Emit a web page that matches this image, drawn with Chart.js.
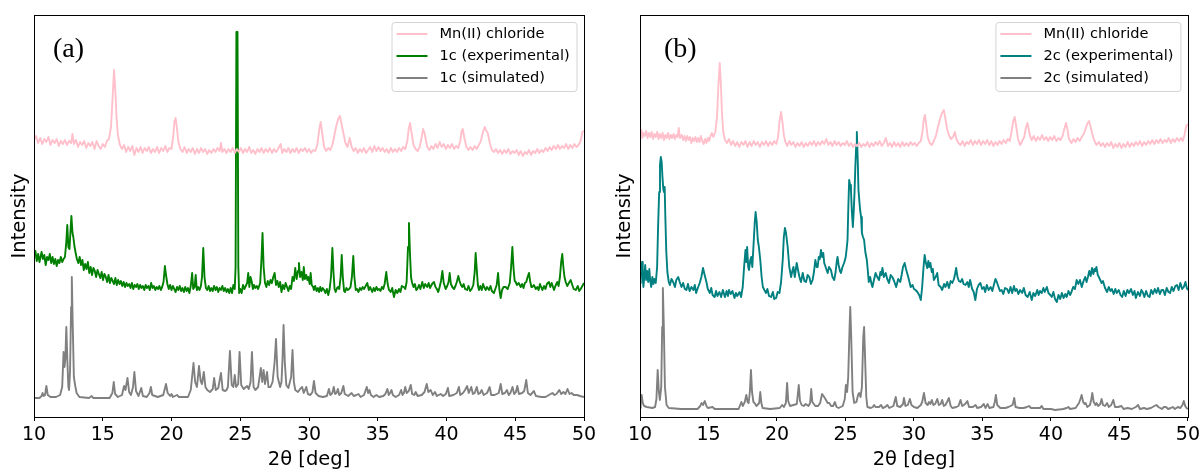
<!DOCTYPE html>
<html>
<head>
<meta charset="utf-8">
<script src="https://cdn.jsdelivr.net/npm/chart.js@4.4.1/dist/chart.umd.min.js"></script>
<style>
  html, body { margin: 0; padding: 0; background: #fff; }
  #wrap { position: relative; width: 1203px; height: 470px; overflow: hidden; }
  canvas { position: absolute; top: 0; }
  #ca { left: 0; }
  #cb { left: 600px; }
</style>
</head>
<body>
<div id="wrap">
  <canvas id="ca" width="600" height="470"></canvas>
  <canvas id="cb" width="603" height="470"></canvas>
</div>
<script>
// ---- tick labels / axis ----
const xTickValues = [10, 15, 20, 25, 30, 35, 40, 45, 50];
const xTitle = '2θ [deg]';
const yTitle = 'Intensity';
const panelLabels = ['(a)', '(b)'];
const seriesLabelsA = ['Mn(II) chloride', '1c (experimental)', '1c (simulated)'];
const seriesLabelsB = ['Mn(II) chloride', '2c (experimental)', '2c (simulated)'];

// ---- panel (a) series : [2θ, intensity (offset, arbitrary units)] ----
const mnChlorideA = [[10,277],[10.15,281],[10.3,274],[10.45,279],[10.6,273],[10.75,278],[10.9,275],[11.05,280],[11.2,272],[11.35,277],[11.5,274],[11.65,278],[11.8,271],[11.95,276],[12.1,273],[12.25,277],[12.4,272],[12.55,276],[12.7,274],[12.8,283],[12.9,273],[13.05,277],[13.2,270],[13.35,275],[13.5,272],[13.65,276],[13.8,269],[13.95,274],[14.1,271],[14.25,275],[14.4,268],[14.55,276],[14.7,271],[14.85,268],[15.0,273],[15.15,270],[15.3,276],[15.45,278],[15.6,290],[15.72,320],[15.82,347],[15.92,325],[16.0,300],[16.1,282],[16.25,272],[16.4,268],[16.55,272],[16.7,265],[16.85,270],[17.0,266],[17.15,271],[17.3,262],[17.45,269],[17.6,265],[17.75,270],[17.9,264],[18.05,269],[18.2,266],[18.35,270],[18.5,264],[18.65,268],[18.8,265],[18.95,270],[19.1,264],[19.25,269],[19.4,266],[19.55,271],[19.7,265],[19.85,269],[20.0,268],[20.12,280],[20.22,296],[20.3,299],[20.4,288],[20.5,275],[20.65,268],[20.8,265],[20.95,270],[21.1,264],[21.25,268],[21.4,265],[21.55,269],[21.7,263],[21.85,268],[22.0,264],[22.15,269],[22.3,265],[22.45,268],[22.6,263],[22.75,267],[22.9,264],[23.05,268],[23.2,265],[23.35,269],[23.5,266],[23.6,274],[23.7,265],[23.85,268],[24.0,264],[24.15,268],[24.3,265],[24.45,269],[24.6,264],[24.75,268],[24.9,265],[25.05,269],[25.2,264],[25.35,268],[25.5,265],[25.65,270],[25.8,264],[25.95,267],[26.1,263],[26.25,268],[26.4,265],[26.55,269],[26.7,264],[26.85,268],[27.0,265],[27.15,269],[27.3,264],[27.45,268],[27.6,265],[27.75,268],[27.94,273],[28.05,264],[28.2,268],[28.35,265],[28.5,269],[28.65,264],[28.8,268],[28.95,265],[29.1,269],[29.25,264],[29.4,268],[29.55,266],[29.7,269],[29.85,265],[30.0,268],[30.15,264],[30.3,267],[30.45,266],[30.6,272],[30.75,288],[30.85,295],[30.95,285],[31.1,270],[31.25,266],[31.4,269],[31.55,267],[31.7,272],[31.85,282],[32.0,292],[32.15,299],[32.25,301],[32.35,294],[32.5,284],[32.65,274],[32.8,270],[32.96,279],[33.1,270],[33.25,266],[33.4,269],[33.55,264],[33.7,268],[33.85,265],[34.0,269],[34.15,264],[34.3,267],[34.45,270],[34.6,265],[34.75,271],[34.9,266],[35.05,270],[35.2,266],[35.35,269],[35.5,265],[35.65,268],[35.8,264],[35.95,269],[36.1,265],[36.25,268],[36.4,265],[36.55,269],[36.7,266],[36.85,270],[37.0,268],[37.15,276],[37.25,288],[37.35,294],[37.45,285],[37.6,272],[37.75,268],[37.9,266],[38.05,270],[38.2,280],[38.3,288],[38.4,284],[38.5,277],[38.6,270],[38.75,267],[38.9,271],[39.05,268],[39.2,273],[39.35,269],[39.5,275],[39.65,270],[39.8,273],[39.95,268],[40.1,272],[40.25,269],[40.4,273],[40.55,268],[40.7,271],[40.85,269],[41.0,276],[41.1,286],[41.18,288],[41.3,279],[41.45,270],[41.6,267],[41.75,270],[41.9,267],[42.05,271],[42.2,268],[42.35,272],[42.5,276],[42.65,285],[42.78,290],[42.9,286],[43.0,284],[43.15,274],[43.3,267],[43.45,265],[43.6,268],[43.75,264],[43.9,267],[44.05,263],[44.2,267],[44.35,264],[44.5,268],[44.65,263],[44.8,266],[44.95,264],[45.1,267],[45.25,262],[45.4,266],[45.55,261],[45.7,265],[45.85,263],[46.0,267],[46.15,262],[46.3,266],[46.45,264],[46.6,268],[46.75,264],[46.9,267],[47.05,265],[47.2,269],[47.35,266],[47.5,270],[47.65,267],[47.8,271],[47.95,268],[48.1,272],[48.25,268],[48.4,271],[48.55,269],[48.7,273],[48.85,268],[49.0,272],[49.15,269],[49.3,273],[49.45,270],[49.6,272],[49.75,276],[49.88,285],[50.0,286]];

const exp1c = [[10.0,160],[10.1,166],[10.2,156],[10.3,163],[10.4,155],[10.55,165],[10.65,158],[10.75,162],[10.85,152],[10.95,160],[11.05,157],[11.15,163],[11.25,154],[11.35,160],[11.45,153],[11.55,158],[11.65,151],[11.75,157],[11.85,154],[11.95,160],[12.05,155],[12.15,158],[12.25,160],[12.35,175],[12.42,192],[12.5,170],[12.58,168],[12.65,185],[12.72,201],[12.8,184],[12.86,180],[12.95,170],[13.03,164],[13.12,158],[13.22,154],[13.32,160],[13.42,152],[13.52,157],[13.62,147],[13.72,153],[13.82,148],[13.92,155],[14.02,144],[14.12,150],[14.22,142],[14.32,149],[14.42,146],[14.52,140],[14.62,147],[14.72,143],[14.82,139],[14.92,145],[15.02,137],[15.12,143],[15.22,140],[15.32,135],[15.42,142],[15.52,134],[15.62,139],[15.72,136],[15.82,133],[15.92,139],[16.02,132],[16.12,137],[16.22,133],[16.32,136],[16.42,131],[16.52,135],[16.62,130],[16.72,134],[16.82,131],[16.92,133],[17.02,129],[17.12,134],[17.22,128],[17.32,132],[17.42,130],[17.52,133],[17.62,128],[17.72,132],[17.82,129],[17.92,131],[18.02,127],[18.12,132],[18.22,129],[18.32,131],[18.42,127],[18.52,134],[18.62,129],[18.72,131],[18.82,127],[18.92,130],[19.02,128],[19.12,131],[19.22,127],[19.32,130],[19.42,135],[19.52,151],[19.6,142],[19.7,133],[19.8,128],[19.9,132],[20.0,127],[20.1,131],[20.2,128],[20.3,125],[20.4,130],[20.5,127],[20.6,131],[20.7,126],[20.8,129],[20.9,125],[21.0,130],[21.1,126],[21.2,129],[21.3,124],[21.4,131],[21.5,144],[21.58,128],[21.68,130],[21.76,142],[21.84,127],[21.94,130],[22.04,127],[22.14,131],[22.22,140],[22.31,169],[22.4,140],[22.5,129],[22.6,127],[22.7,131],[22.8,126],[22.9,129],[23.0,126],[23.1,131],[23.2,127],[23.3,130],[23.4,125],[23.5,129],[23.6,127],[23.7,131],[23.8,126],[23.9,129],[24.0,125],[24.1,128],[24.2,124],[24.3,129],[24.4,124],[24.5,132],[24.6,128],[24.66,150],[24.72,385],[24.8,385],[24.86,150],[24.92,124],[25.0,128],[25.1,124],[25.2,132],[25.3,128],[25.4,131],[25.5,134],[25.58,144],[25.66,130],[25.75,140],[25.84,135],[25.92,128],[26.0,132],[26.1,129],[26.2,131],[26.3,128],[26.45,134],[26.55,160],[26.62,184],[26.7,150],[26.8,134],[26.9,130],[27.0,136],[27.1,132],[27.2,137],[27.3,134],[27.4,140],[27.5,144],[27.6,132],[27.7,136],[27.8,130],[27.9,135],[28.0,125],[28.1,132],[28.2,128],[28.3,134],[28.4,130],[28.5,126],[28.6,131],[28.7,128],[28.8,140],[28.9,136],[29.0,149],[29.1,138],[29.2,146],[29.27,154],[29.35,140],[29.45,145],[29.55,137],[29.62,150],[29.7,138],[29.8,142],[29.88,137],[29.95,140],[30.05,133],[30.12,144],[30.2,132],[30.3,130],[30.36,127],[30.45,131],[30.55,126],[30.65,129],[30.73,125],[30.82,130],[30.9,126],[31.0,129],[31.1,127],[31.2,124],[31.3,128],[31.4,122],[31.5,128],[31.6,140],[31.7,169],[31.78,145],[31.86,128],[31.94,125],[32.04,129],[32.12,130],[32.2,128],[32.3,140],[32.38,162],[32.46,140],[32.55,126],[32.62,125],[32.72,129],[32.82,127],[32.92,128],[33.02,130],[33.12,140],[33.22,161],[33.3,140],[33.4,127],[33.5,128],[33.6,125],[33.7,129],[33.8,127],[33.9,130],[34.0,128],[34.12,131],[34.24,134],[34.35,127],[34.45,130],[34.6,125],[34.7,129],[34.8,126],[34.9,130],[35.0,127],[35.1,128],[35.2,126],[35.3,130],[35.4,128],[35.5,133],[35.62,145],[35.72,133],[35.82,127],[35.94,125],[36.05,129],[36.18,120],[36.3,127],[36.42,124],[36.55,128],[36.65,125],[36.75,131],[36.9,130],[37.0,128],[37.1,135],[37.2,170],[37.27,194],[37.34,165],[37.42,140],[37.5,134],[37.6,130],[37.7,133],[37.8,127],[37.88,128],[38.0,132],[38.1,128],[38.24,135],[38.35,129],[38.45,133],[38.6,130],[38.7,134],[38.8,129],[38.95,133],[39.09,135],[39.2,130],[39.3,128],[39.4,125],[39.5,130],[39.6,136],[39.7,146],[39.8,134],[39.94,128],[40.05,131],[40.15,135],[40.23,144],[40.32,133],[40.42,130],[40.55,128],[40.65,131],[40.75,135],[40.86,141],[40.95,136],[41.05,132],[41.15,130],[41.25,133],[41.35,128],[41.5,127],[41.6,131],[41.72,126],[41.83,128],[41.95,132],[42.05,145],[42.12,164],[42.2,148],[42.28,132],[42.36,127],[42.46,131],[42.56,127],[42.66,133],[42.73,130],[42.85,127],[42.95,130],[43.09,127],[43.2,131],[43.3,126],[43.45,124],[43.55,128],[43.65,132],[43.75,144],[43.84,128],[43.94,119],[44.04,127],[44.15,130],[44.3,130],[44.45,128],[44.6,134],[44.7,150],[44.79,170],[44.88,148],[44.96,136],[45.03,135],[45.13,132],[45.25,134],[45.4,130],[45.5,133],[45.6,129],[45.7,134],[45.8,135],[45.9,140],[46.0,144],[46.08,136],[46.17,130],[46.24,130],[46.35,132],[46.5,128],[46.6,130],[46.7,127],[46.8,133],[46.97,127],[47.1,131],[47.2,128],[47.3,133],[47.45,135],[47.55,130],[47.65,134],[47.82,127],[47.92,131],[48.06,135],[48.15,131],[48.25,140],[48.34,155],[48.42,163],[48.5,150],[48.58,140],[48.67,135],[48.78,131],[48.9,134],[49.03,137],[49.15,132],[49.25,128],[49.4,127],[49.55,131],[49.65,126],[49.76,128],[49.88,131],[50.0,134]];

const sim1c = [[10.0,19],[10.4,19],[10.55,21],[10.62,24],[10.7,21],[10.8,22],[10.9,31],[11.0,22],[11.2,20],[11.6,20],[11.9,22],[12.05,30],[12.15,65],[12.22,50],[12.28,58],[12.35,90],[12.43,55],[12.5,30],[12.55,27],[12.62,45],[12.7,110],[12.75,140],[12.82,90],[12.9,40],[13.0,31],[13.1,24],[13.3,20],[14.0,19],[14.2,21],[14.3,19],[15.5,19],[15.7,24],[15.8,35],[15.9,23],[16.1,20],[16.4,22],[16.55,31],[16.65,27],[16.8,39],[16.92,25],[17.05,22],[17.2,30],[17.3,45],[17.42,26],[17.6,21],[17.8,29],[17.92,21],[18.2,20],[18.4,24],[18.5,30],[18.6,22],[19.0,20],[19.4,22],[19.6,33],[19.72,24],[19.9,21],[20.0,23],[20.1,20],[20.4,22],[20.55,20],[21.2,20],[21.4,27],[21.6,54],[21.72,35],[21.85,30],[22.0,51],[22.12,36],[22.22,33],[22.35,45],[22.47,30],[22.6,27],[22.8,25],[23.0,28],[23.1,39],[23.22,27],[23.4,29],[23.6,44],[23.72,27],[23.9,26],[24.0,27],[24.1,30],[24.25,66],[24.38,32],[24.5,30],[24.6,42],[24.7,30],[24.85,33],[24.95,65],[25.07,32],[25.25,28],[25.5,31],[25.62,28],[25.75,35],[25.85,65],[25.97,30],[26.1,27],[26.3,30],[26.5,49],[26.6,35],[26.7,47],[26.8,33],[26.95,45],[27.05,30],[27.2,30],[27.35,35],[27.5,55],[27.6,78],[27.72,40],[27.9,30],[28.0,35],[28.08,60],[28.15,92],[28.24,55],[28.35,32],[28.5,29],[28.7,40],[28.8,67],[28.9,35],[29.0,27],[29.2,25],[29.35,28],[29.5,30],[29.62,24],[29.8,30],[29.92,23],[30.1,22],[30.25,25],[30.36,36],[30.48,24],[30.7,21],[31.0,20],[31.3,21],[31.45,28],[31.55,22],[31.7,24],[31.8,30],[31.9,23],[32.0,24],[32.1,28],[32.2,22],[32.35,24],[32.5,31],[32.6,23],[32.85,21],[33.1,24],[33.25,21],[33.45,22],[33.6,23],[33.75,20],[34.0,22],[34.2,30],[34.3,24],[34.4,27],[34.5,22],[34.7,20],[34.9,22],[35.1,20],[35.4,21],[35.55,23],[35.7,28],[35.8,22],[35.9,24],[36.0,27],[36.1,22],[36.3,20],[36.55,22],[36.7,27],[36.8,22],[36.9,24],[37.0,30],[37.1,24],[37.25,26],[37.4,32],[37.5,23],[37.65,22],[37.76,25],[37.9,21],[38.2,22],[38.4,25],[38.56,33],[38.68,25],[38.85,27],[39.0,22],[39.16,25],[39.3,21],[39.58,23],[39.75,21],[39.95,23],[40.1,29],[40.2,21],[40.5,22],[40.75,24],[40.9,30],[41.0,22],[41.2,24],[41.35,27],[41.5,31],[41.62,24],[41.8,30],[41.92,23],[42.05,24],[42.2,30],[42.32,23],[42.45,24],[42.56,27],[42.7,22],[42.95,24],[43.14,30],[43.25,22],[43.5,22],[43.8,24],[43.94,33],[44.06,23],[44.25,24],[44.4,27],[44.52,22],[44.65,24],[44.8,30],[44.92,23],[45.05,25],[45.15,31],[45.27,23],[45.5,24],[45.65,26],[45.8,37],[45.92,24],[46.1,22],[46.36,26],[46.5,21],[46.9,20],[47.2,20],[47.45,22],[47.7,24],[47.85,22],[48.0,23],[48.2,27],[48.35,23],[48.5,25],[48.65,23],[48.8,28],[48.95,23],[49.1,24],[49.25,22],[49.5,22],[49.7,21],[50.0,20]];

// ---- panel (b) series ----
const mnChlorideB = [[10.0,284],[10.1,287],[10.16,279],[10.25,284],[10.35,281],[10.45,286],[10.55,279],[10.65,284],[10.75,280],[10.85,285],[10.95,278],[11.05,283],[11.15,280],[11.25,285],[11.35,278],[11.45,283],[11.55,279],[11.65,284],[11.75,277],[11.85,282],[11.95,279],[12.05,284],[12.15,278],[12.25,282],[12.35,279],[12.45,283],[12.55,278],[12.65,282],[12.75,280],[12.83,289],[12.92,279],[13.05,282],[13.15,277],[13.25,281],[13.35,276],[13.45,281],[13.55,277],[13.65,280],[13.75,274],[13.85,279],[13.95,276],[14.05,280],[14.15,275],[14.25,279],[14.35,275],[14.45,281],[14.55,276],[14.65,273],[14.75,278],[14.85,274],[14.95,279],[15.05,276],[15.15,281],[15.25,284],[15.35,280],[15.5,285],[15.62,300],[15.72,330],[15.82,354],[15.9,335],[15.98,305],[16.08,285],[16.2,277],[16.35,274],[16.5,278],[16.65,272],[16.8,276],[16.95,271],[17.1,275],[17.25,270],[17.4,275],[17.55,272],[17.7,276],[17.85,270],[18.0,275],[18.15,271],[18.3,276],[18.45,272],[18.6,275],[18.75,270],[18.9,275],[19.05,272],[19.2,276],[19.35,271],[19.5,275],[19.65,272],[19.8,276],[19.95,273],[20.08,280],[20.18,295],[20.3,305],[20.4,295],[20.5,282],[20.62,275],[20.75,271],[20.9,276],[21.05,272],[21.2,275],[21.35,270],[21.5,274],[21.65,271],[21.8,275],[21.95,270],[22.1,274],[22.25,271],[22.4,275],[22.55,272],[22.7,276],[22.85,271],[23.0,275],[23.15,272],[23.3,276],[23.45,273],[23.6,278],[23.75,272],[23.9,275],[24.05,271],[24.2,276],[24.35,272],[24.5,275],[24.65,271],[24.8,274],[24.95,272],[25.1,276],[25.25,271],[25.4,274],[25.55,270],[25.7,273],[25.85,271],[26.0,274],[26.15,270],[26.3,273],[26.45,271],[26.6,275],[26.75,270],[26.9,274],[27.05,271],[27.2,275],[27.35,272],[27.5,276],[27.65,271],[27.8,274],[27.95,279],[28.1,271],[28.25,274],[28.4,270],[28.55,275],[28.7,271],[28.85,274],[29.0,270],[29.15,275],[29.3,271],[29.45,274],[29.6,271],[29.75,275],[29.9,272],[30.05,274],[30.2,271],[30.35,274],[30.5,276],[30.62,285],[30.72,298],[30.8,302],[30.9,292],[31.0,280],[31.15,274],[31.3,272],[31.45,276],[31.6,281],[31.75,290],[31.9,298],[32.05,304],[32.18,307],[32.3,298],[32.42,288],[32.55,282],[32.7,278],[32.85,280],[32.98,285],[33.1,278],[33.25,274],[33.4,272],[33.55,276],[33.7,271],[33.85,275],[34.0,273],[34.15,277],[34.3,272],[34.45,276],[34.6,273],[34.75,277],[34.9,272],[35.05,276],[35.2,273],[35.35,277],[35.5,272],[35.65,276],[35.8,271],[35.95,275],[36.1,272],[36.25,276],[36.4,273],[36.55,277],[36.7,274],[36.85,278],[37.0,276],[37.12,285],[37.25,296],[37.35,300],[37.45,292],[37.6,278],[37.76,272],[37.9,276],[38.05,280],[38.18,290],[38.29,294],[38.4,286],[38.5,280],[38.6,277],[38.75,281],[38.9,276],[39.05,280],[39.2,277],[39.35,282],[39.5,277],[39.65,280],[39.8,276],[39.95,280],[40.1,277],[40.25,281],[40.4,276],[40.55,279],[40.7,277],[40.85,281],[40.98,288],[41.1,294],[41.2,288],[41.32,278],[41.5,274],[41.65,278],[41.8,275],[41.95,279],[42.1,276],[42.25,280],[42.4,283],[42.55,289],[42.68,294],[42.78,296],[42.9,290],[43.02,283],[43.15,277],[43.33,272],[43.5,275],[43.65,271],[43.8,274],[43.95,270],[44.1,274],[44.25,271],[44.4,275],[44.55,269],[44.7,273],[44.85,270],[45.0,274],[45.15,269],[45.3,273],[45.45,270],[45.6,275],[45.75,270],[45.9,274],[46.05,271],[46.2,275],[46.35,272],[46.5,276],[46.65,271],[46.8,275],[46.95,272],[47.1,276],[47.25,273],[47.4,277],[47.55,273],[47.7,277],[47.85,274],[48.0,278],[48.15,274],[48.3,277],[48.45,275],[48.6,279],[48.75,274],[48.9,278],[49.05,275],[49.2,279],[49.35,276],[49.5,279],[49.62,276],[49.75,282],[49.88,291],[50.0,293]];

const exp2c = [[10.0,134],[10.05,150],[10.1,144],[10.15,155],[10.2,139],[10.25,130],[10.32,142],[10.38,152],[10.45,137],[10.52,146],[10.6,135],[10.68,148],[10.75,136],[10.82,130],[10.9,140],[10.98,133],[11.05,138],[11.15,134],[11.25,150],[11.32,190],[11.4,225],[11.46,252],[11.52,260],[11.58,255],[11.64,240],[11.7,228],[11.75,225],[11.8,230],[11.85,200],[11.92,165],[12.0,145],[12.1,135],[12.18,132],[12.3,138],[12.42,135],[12.55,130],[12.65,137],[12.79,140],[12.9,135],[13.03,130],[13.15,134],[13.27,128],[13.39,127],[13.5,133],[13.62,126],[13.76,130],[13.9,127],[14.0,132],[14.1,124],[14.22,129],[14.36,134],[14.48,140],[14.6,149],[14.72,142],[14.85,135],[14.95,128],[15.1,124],[15.2,129],[15.3,122],[15.45,120],[15.55,126],[15.65,121],[15.8,125],[15.92,120],[16.05,127],[16.2,120],[16.32,126],[16.42,121],[16.5,127],[16.62,123],[16.75,126],[16.9,119],[17.0,124],[17.1,121],[17.27,125],[17.38,120],[17.5,130],[17.6,150],[17.7,167],[17.76,155],[17.82,170],[17.9,150],[17.96,147],[18.05,157],[18.12,160],[18.2,150],[18.3,175],[18.38,195],[18.44,205],[18.52,195],[18.6,177],[18.68,170],[18.78,157],[18.88,140],[18.97,130],[19.08,127],[19.2,124],[19.3,128],[19.42,121],[19.57,120],[19.7,125],[19.8,118],[19.94,119],[20.05,125],[20.18,124],[20.3,135],[20.42,157],[20.5,180],[20.58,189],[20.66,184],[20.78,170],[20.9,150],[21.03,140],[21.12,146],[21.2,150],[21.3,140],[21.38,148],[21.44,154],[21.52,148],[21.64,140],[21.75,135],[21.88,144],[22.0,136],[22.12,135],[22.24,142],[22.36,140],[22.48,133],[22.6,137],[22.7,145],[22.8,157],[22.9,150],[22.97,150],[23.05,160],[23.13,158],[23.21,167],[23.3,160],[23.38,164],[23.45,154],[23.55,150],[23.62,147],[23.7,144],[23.8,150],[23.94,147],[24.05,140],[24.18,137],[24.28,145],[24.36,155],[24.42,160],[24.5,152],[24.6,146],[24.67,144],[24.78,150],[24.9,154],[25.02,160],[25.1,170],[25.15,177],[25.22,215],[25.27,237],[25.34,232],[25.4,227],[25.47,205],[25.54,190],[25.6,205],[25.66,224],[25.72,250],[25.78,270],[25.83,285],[25.9,255],[25.95,227],[26.02,215],[26.07,207],[26.14,200],[26.2,184],[26.28,180],[26.36,177],[26.45,165],[26.56,157],[26.64,145],[26.7,135],[26.8,140],[26.9,133],[26.97,130],[27.08,137],[27.2,144],[27.32,140],[27.45,137],[27.55,145],[27.62,142],[27.7,149],[27.8,140],[27.94,144],[28.05,138],[28.18,134],[28.3,142],[28.42,140],[28.55,136],[28.7,130],[28.85,138],[29.0,135],[29.1,142],[29.2,150],[29.32,154],[29.42,148],[29.5,144],[29.62,138],[29.76,130],[29.9,132],[30.0,128],[30.12,127],[30.25,125],[30.38,122],[30.5,117],[30.6,130],[30.7,150],[30.78,162],[30.86,155],[30.97,149],[31.05,156],[31.12,150],[31.2,154],[31.3,145],[31.38,148],[31.45,137],[31.58,140],[31.7,144],[31.8,132],[31.95,130],[32.06,127],[32.2,133],[32.3,130],[32.43,135],[32.55,129],[32.68,136],[32.8,134],[32.92,138],[33.0,143],[33.08,149],[33.18,140],[33.28,136],[33.4,135],[33.52,138],[33.62,133],[33.76,132],[33.9,135],[34.0,130],[34.1,137],[34.25,128],[34.36,125],[34.48,117],[34.6,128],[34.72,132],[34.85,134],[34.98,128],[35.1,130],[35.2,125],[35.32,132],[35.45,127],[35.6,130],[35.72,126],[35.85,133],[35.95,138],[36.05,135],[36.15,131],[36.28,126],[36.4,127],[36.52,123],[36.65,129],[36.8,128],[36.92,124],[37.05,130],[37.17,124],[37.3,131],[37.4,126],[37.5,128],[37.62,123],[37.75,127],[37.9,124],[38.02,129],[38.15,122],[38.3,120],[38.45,125],[38.6,117],[38.72,124],[38.85,121],[39.0,127],[39.1,122],[39.2,126],[39.33,124],[39.45,129],[39.55,125],[39.7,130],[39.82,124],[39.95,122],[40.06,120],[40.18,125],[40.3,118],[40.43,115],[40.55,122],[40.68,118],[40.8,124],[40.92,119],[41.05,123],[41.15,120],[41.28,126],[41.4,122],[41.5,125],[41.62,130],[41.75,128],[41.88,137],[42.0,133],[42.12,137],[42.25,130],[42.38,136],[42.5,140],[42.6,135],[42.7,140],[42.8,146],[42.9,141],[43.0,149],[43.1,143],[43.18,148],[43.24,146],[43.32,150],[43.42,142],[43.5,140],[43.6,137],[43.7,134],[43.8,136],[43.95,129],[44.1,125],[44.22,130],[44.35,126],[44.45,128],[44.58,123],[44.7,128],[44.8,124],[44.95,127],[45.08,122],[45.2,120],[45.32,126],[45.45,121],[45.58,127],[45.7,124],[45.85,128],[45.98,122],[46.1,126],[46.2,119],[46.35,125],[46.5,121],[46.6,127],[46.7,125],[46.82,120],[46.95,126],[47.08,121],[47.2,120],[47.32,127],[47.45,123],[47.58,128],[47.7,124],[47.82,129],[47.95,123],[48.08,127],[48.2,127],[48.32,122],[48.45,129],[48.58,125],[48.7,124],[48.82,130],[48.95,126],[49.08,131],[49.2,132],[49.32,127],[49.45,134],[49.58,128],[49.7,130],[49.82,135],[49.92,129],[50.0,127]];

const sim2c = [[10.0,9],[10.05,14],[10.12,22],[10.2,14],[10.3,11],[10.5,10],[10.9,9],[11.1,10],[11.2,18],[11.29,47],[11.38,25],[11.45,17],[11.55,30],[11.62,90],[11.67,129],[11.74,90],[11.82,30],[11.94,12],[12.1,9],[13.0,8],[14.2,8],[14.4,11],[14.49,14],[14.6,12],[14.73,16],[14.85,11],[14.95,9],[15.3,10],[15.45,8],[17.2,8],[17.4,15],[17.5,11],[17.65,15],[17.76,22],[17.86,15],[17.93,14],[18.02,25],[18.1,47],[18.18,25],[18.28,15],[18.36,14],[18.5,11],[18.7,14],[18.78,25],[18.86,14],[18.95,9],[19.5,8],[20.2,9],[20.38,12],[20.5,10],[20.65,14],[20.74,34],[20.82,16],[20.95,11],[21.2,12],[21.45,13],[21.59,32],[21.68,16],[21.8,12],[21.95,11],[22.1,13],[22.3,11],[22.42,14],[22.5,28],[22.58,15],[22.8,11],[23.0,11],[23.15,14],[23.29,23],[23.4,21],[23.58,17],[23.7,14],[23.82,14],[23.95,11],[24.1,11],[24.23,15],[24.35,10],[24.5,9],[24.8,11],[24.95,18],[25.03,32],[25.12,25],[25.2,40],[25.3,90],[25.35,110],[25.42,80],[25.52,25],[25.64,14],[25.8,15],[25.92,22],[26.0,24],[26.1,20],[26.2,30],[26.3,80],[26.36,90],[26.43,60],[26.52,20],[26.6,10],[26.85,9],[27.0,10],[27.09,12],[27.2,10],[27.45,10],[27.6,12],[27.72,9],[27.9,10],[28.06,12],[28.2,9],[28.5,11],[28.67,20],[28.78,11],[29.0,10],[29.2,13],[29.27,19],[29.38,11],[29.55,12],[29.7,18],[29.82,12],[30.0,10],[30.25,9],[30.5,12],[30.6,15],[30.73,24],[30.85,14],[31.0,12],[31.1,15],[31.2,13],[31.3,17],[31.42,12],[31.55,13],[31.7,18],[31.82,12],[31.95,13],[32.06,17],[32.18,11],[32.3,12],[32.45,16],[32.55,19],[32.68,11],[32.8,9],[33.1,10],[33.25,11],[33.4,17],[33.52,11],[33.65,12],[33.8,14],[33.9,16],[34.02,10],[34.3,10],[34.5,12],[34.62,9],[34.9,10],[35.1,13],[35.22,9],[35.38,13],[35.5,9],[35.8,10],[35.9,15],[35.98,22],[36.08,12],[36.3,9],[36.67,9],[36.9,10],[37.2,12],[37.32,19],[37.42,10],[37.7,9],[38.0,9],[38.25,10],[38.4,11],[38.55,9],[38.9,9],[39.2,9],[39.33,11],[39.45,8],[40.0,8],[40.3,7],[40.9,8],[41.15,9],[41.27,10],[41.4,8],[41.8,9],[41.95,12],[42.05,14],[42.15,18],[42.24,22],[42.35,15],[42.45,13],[42.53,14],[42.65,10],[42.85,12],[42.95,18],[43.02,24],[43.12,15],[43.25,12],[43.33,14],[43.45,11],[43.6,13],[43.7,18],[43.8,12],[43.95,11],[44.1,14],[44.22,10],[44.4,12],[44.55,17],[44.68,10],[44.9,10],[45.15,11],[45.3,8],[45.6,9],[45.9,8],[46.2,10],[46.36,12],[46.5,8],[46.8,9],[47.0,8],[47.3,9],[47.55,11],[47.7,12],[47.85,10],[48.1,8],[48.25,10],[48.4,10],[48.55,8],[48.75,9],[48.9,10],[49.05,8],[49.27,10],[49.45,9],[49.6,12],[49.7,16],[49.8,11],[49.9,9],[50.0,8]];

const colorsA = ['#ffc0cb', '#008000', '#808080'];
const colorsB = ['#ffc0cb', '#008080', '#808080'];

// ---- drawing helpers ----
const framePlugin = {
  id: 'frame',
  afterDraw(chart) {
    const {ctx, chartArea: a} = chart;
    ctx.save();
    ctx.strokeStyle = '#000';
    ctx.lineWidth = 1;
    ctx.strokeRect(Math.round(a.left) + 0.5, Math.round(a.top) + 0.5,
                   Math.round(a.right - a.left), Math.round(a.bottom - a.top));
    ctx.restore();
  }
};

function legendPlugin(labelX) {
  return {
    id: 'boxLegend',
    afterDraw(chart) {
      const {ctx, chartArea: a} = chart;
      const w = 185, h = 69;
      const x0 = a.right - 7.5 - w, y0 = a.top + 7;
      ctx.save();
      ctx.beginPath();
      if (ctx.roundRect) ctx.roundRect(x0 + 0.5, y0 + 0.5, w, h, 3); else ctx.rect(x0 + 0.5, y0 + 0.5, w, h);
      ctx.fillStyle = 'rgba(255,255,255,0.8)';
      ctx.fill();
      ctx.strokeStyle = '#d4d4d4';
      ctx.lineWidth = 1;
      ctx.stroke();
      ctx.font = '14.6px "DejaVu Sans"';
      ctx.textBaseline = 'middle';
      ctx.fillStyle = '#000';
      chart.data.datasets.forEach((ds, i) => {
        const yy = y0 + 12 + i * 22;
        ctx.beginPath();
        ctx.moveTo(x0 + 5, yy);
        ctx.lineTo(x0 + 36, yy);
        ctx.strokeStyle = ds.borderColor;
        ctx.lineWidth = 2;
        ctx.stroke();
        ctx.fillText(ds.label, x0 + 48, yy);
      });
      ctx.font = '28px "Liberation Serif"';
      ctx.textBaseline = 'alphabetic';
      ctx.fillText(chart.options.panelLabel, a.left + labelX, 57);
      ctx.restore();
    }
  };
}

function makePanel(id, series, labels, colors, cfg) {
  const datasets = series.map((s, i) => ({
    label: labels[i],
    data: s.map(p => ({x: p[0], y: p[1]})),
    borderColor: colors[i],
    borderWidth: 1.9,
    borderJoinStyle: 'round',
    pointRadius: 0,
    tension: 0,
    fill: false
  }));
  return new Chart(document.getElementById(id), {
    type: 'line',
    data: {datasets},
    options: {
      panelLabel: cfg.panelLabel,
      responsive: false,
      animation: false,
      events: [],
      layout: {padding: {top: 15, right: cfg.padRight, bottom: 0, left: 0}},
      plugins: {legend: {display: false}, tooltip: {enabled: false}},
      scales: {
        x: {
          type: 'linear', min: 10, max: 50,
          afterBuildTicks: sc => { sc.ticks = xTickValues.map(v => ({value: v})); },
          ticks: {color: '#000', font: {family: 'DejaVu Sans', size: 19}, padding: 3, maxRotation: 0, autoSkip: false},
          grid: {drawOnChartArea: false, drawTicks: true, tickLength: 4, color: '#000', lineWidth: 1},
          border: {display: false},
          title: {display: true, text: xTitle, color: '#000', font: {family: 'DejaVu Sans', size: 19.5, lineHeight: 1}, padding: {top: 0, bottom: 0}},
          afterFit: sc => { sc.height = 53; }
        },
        y: {
          min: 0, max: 402,
          ticks: {display: false},
          grid: {display: false},
          border: {display: false},
          title: {display: true, text: yTitle, color: '#000', font: {family: 'DejaVu Sans', size: 19.5, lineHeight: 1}, padding: {top: cfg.yTitlePad, bottom: 0}},
          afterFit: sc => { sc.width = cfg.yWidth; }
        }
      }
    },
    plugins: [framePlugin, legendPlugin(cfg.labelX)]
  });
}

makePanel('ca', [mnChlorideA, exp1c, sim1c], seriesLabelsA, colorsA,
  {panelLabel: panelLabels[0], padRight: 16, yWidth: 34, yTitlePad: 10, labelX: 19});
makePanel('cb', [mnChlorideB, exp2c, sim2c], seriesLabelsB, colorsB,
  {panelLabel: panelLabels[1], padRight: 13, yWidth: 40, yTitlePad: 15, labelX: 24});
</script>
</body>
</html>
